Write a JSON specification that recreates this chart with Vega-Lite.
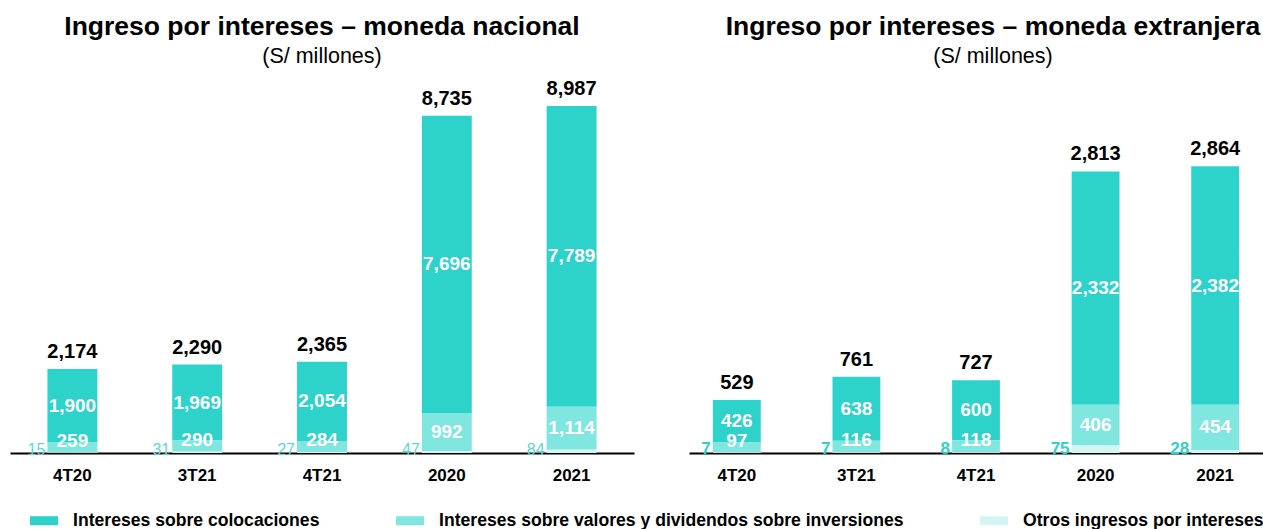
{
  "$schema": "https://vega.github.io/schema/vega-lite/v6.json",
  "padding": {"left": 10, "right": 0, "top": 14, "bottom": 0},
  "background": "white",
  "config": {
    "view": {"stroke": null},
    "font": "Liberation Sans",
    "title": {"fontSize": 26.5, "fontWeight": "bold", "color": "black", "subtitleFontSize": 21.5, "subtitleColor": "black", "subtitlePadding": 5, "offset": 12, "anchor": "middle"},
    "axisX": {"title": null, "labelAngle": 0, "labelFontSize": 17, "labelFontWeight": "bold", "labelColor": "black", "ticks": false, "labelPadding": 14, "domainColor": "black", "domainWidth": 2, "grid": false}
  },
  "datasets": {
    "nac": [
      {"periodo": "4T20", "serie": "Intereses sobre colocaciones", "valor": 1900},
      {"periodo": "4T20", "serie": "Intereses sobre valores y dividendos sobre inversiones", "valor": 259},
      {"periodo": "4T20", "serie": "Otros ingresos por intereses", "valor": 15},
      {"periodo": "3T21", "serie": "Intereses sobre colocaciones", "valor": 1969},
      {"periodo": "3T21", "serie": "Intereses sobre valores y dividendos sobre inversiones", "valor": 290},
      {"periodo": "3T21", "serie": "Otros ingresos por intereses", "valor": 31},
      {"periodo": "4T21", "serie": "Intereses sobre colocaciones", "valor": 2054},
      {"periodo": "4T21", "serie": "Intereses sobre valores y dividendos sobre inversiones", "valor": 284},
      {"periodo": "4T21", "serie": "Otros ingresos por intereses", "valor": 27},
      {"periodo": "2020", "serie": "Intereses sobre colocaciones", "valor": 7696},
      {"periodo": "2020", "serie": "Intereses sobre valores y dividendos sobre inversiones", "valor": 992},
      {"periodo": "2020", "serie": "Otros ingresos por intereses", "valor": 47},
      {"periodo": "2021", "serie": "Intereses sobre colocaciones", "valor": 7789},
      {"periodo": "2021", "serie": "Intereses sobre valores y dividendos sobre inversiones", "valor": 1114},
      {"periodo": "2021", "serie": "Otros ingresos por intereses", "valor": 84}
    ],
    "ext": [
      {"periodo": "4T20", "serie": "Intereses sobre colocaciones", "valor": 426},
      {"periodo": "4T20", "serie": "Intereses sobre valores y dividendos sobre inversiones", "valor": 97},
      {"periodo": "4T20", "serie": "Otros ingresos por intereses", "valor": 7},
      {"periodo": "3T21", "serie": "Intereses sobre colocaciones", "valor": 638},
      {"periodo": "3T21", "serie": "Intereses sobre valores y dividendos sobre inversiones", "valor": 116},
      {"periodo": "3T21", "serie": "Otros ingresos por intereses", "valor": 7},
      {"periodo": "4T21", "serie": "Intereses sobre colocaciones", "valor": 600},
      {"periodo": "4T21", "serie": "Intereses sobre valores y dividendos sobre inversiones", "valor": 118},
      {"periodo": "4T21", "serie": "Otros ingresos por intereses", "valor": 8},
      {"periodo": "2020", "serie": "Intereses sobre colocaciones", "valor": 2332},
      {"periodo": "2020", "serie": "Intereses sobre valores y dividendos sobre inversiones", "valor": 406},
      {"periodo": "2020", "serie": "Otros ingresos por intereses", "valor": 75},
      {"periodo": "2021", "serie": "Intereses sobre colocaciones", "valor": 2382},
      {"periodo": "2021", "serie": "Intereses sobre valores y dividendos sobre inversiones", "valor": 454},
      {"periodo": "2021", "serie": "Otros ingresos por intereses", "valor": 28}
    ],
    "tot_nac": [
      {"periodo": "4T20", "total": 2174},
      {"periodo": "3T21", "total": 2290},
      {"periodo": "4T21", "total": 2365},
      {"periodo": "2020", "total": 8735},
      {"periodo": "2021", "total": 8987}
    ],
    "tot_ext": [
      {"periodo": "4T20", "total": 529},
      {"periodo": "3T21", "total": 761},
      {"periodo": "4T21", "total": 727},
      {"periodo": "2020", "total": 2813},
      {"periodo": "2021", "total": 2864}
    ]
  },
  "hconcat": [
    {
      "title": {"text": "Ingreso por intereses – moneda nacional", "subtitle": "(S/ millones)"},
      "width": 624,
      "height": 374,
      "data": {"name": "nac"},
      "layer": [
        {
          "mark": {"type": "bar"},
          "encoding": {
            "x": {"field": "periodo", "type": "nominal", "sort": ["4T20", "3T21", "4T21", "2020", "2021"], "scale": {"paddingInner": 0.6, "paddingOuter": 0.3}},
            "y": {"field": "valor", "type": "quantitative", "stack": "zero", "scale": {"domain": [0, 9687], "nice": false}, "axis": null},
            "color": {
              "field": "serie", "type": "nominal",
              "scale": {"domain": ["Intereses sobre colocaciones", "Intereses sobre valores y dividendos sobre inversiones", "Otros ingresos por intereses"], "range": ["#2DD3CB", "#80E6E0", "#D5F5F3"]},
              "legend": {
                "title": null, "orient": "none", "legendX": 25, "legendY": 432.5, "direction": "horizontal",
                "symbolType": "M-1.556,-0.5H1.556V0.5H-1.556Z", "symbolSize": 324, "symbolStrokeWidth": 0, "symbolOpacity": 1,
                "labelFontSize": 17.6, "labelFontWeight": "bold", "labelColor": "black", "labelLimit": 700, "labelOffset": 20,
                "columnPadding": 75, "padding": 0
              }
            },
            "order": {"field": "serie", "sort": "descending"}
          }
        },
        {
          "mark": {"type": "text", "fontWeight": "bold", "fontSize": 19, "color": "white", "baseline": "middle"},
          "encoding": {
            "x": {"field": "periodo", "type": "nominal", "sort": ["4T20", "3T21", "4T21", "2020", "2021"]},
            "y": {"field": "valor", "type": "quantitative", "stack": "zero", "bandPosition": 0.5},
            "detail": {"field": "serie"},
            "order": {"field": "serie", "sort": "descending"},
            "text": {"field": "valor", "type": "quantitative", "format": ",", "condition": {"test": "!(datum.serie === 'Intereses sobre colocaciones' || (datum.serie === 'Intereses sobre valores y dividendos sobre inversiones' && (datum.periodo === '2020' || datum.periodo === '2021')))", "value": ""}}
          }
        },
        {
          "mark": {"type": "text", "fontWeight": "bold", "fontSize": 19, "color": "white", "baseline": "middle", "dy": -6},
          "encoding": {
            "x": {"field": "periodo", "type": "nominal", "sort": ["4T20", "3T21", "4T21", "2020", "2021"]},
            "y": {"field": "valor", "type": "quantitative", "stack": "zero", "bandPosition": 0.5},
            "detail": {"field": "serie"},
            "order": {"field": "serie", "sort": "descending"},
            "text": {"field": "valor", "type": "quantitative", "format": ",", "condition": {"test": "!(datum.serie === 'Intereses sobre valores y dividendos sobre inversiones' && datum.periodo !== '2020' && datum.periodo !== '2021')", "value": ""}}
          }
        },
        {
          "transform": [{"filter": "datum.serie === 'Otros ingresos por intereses'"}],
          "mark": {"type": "text", "fontSize": 16, "color": "#5ED9D2", "align": "right", "baseline": "alphabetic", "dx": -27, "dy": 2},
          "encoding": {
            "x": {"field": "periodo", "type": "nominal", "sort": ["4T20", "3T21", "4T21", "2020", "2021"]},
            "y": {"datum": 0, "type": "quantitative"},
            "text": {"field": "valor", "type": "quantitative", "format": ","}
          }
        },
        {
          "data": {"name": "tot_nac"},
          "mark": {"type": "text", "fontWeight": "bold", "fontSize": 20, "color": "black", "baseline": "alphabetic", "dy": -11},
          "encoding": {
            "x": {"field": "periodo", "type": "nominal", "sort": ["4T20", "3T21", "4T21", "2020", "2021"]},
            "y": {"field": "total", "type": "quantitative"},
            "text": {"field": "total", "type": "quantitative", "format": ","}
          }
        }
      ]
    },
    {
      "title": {"text": "Ingreso por intereses – moneda extranjera", "subtitle": "(S/ millones)", "dx": 17},
      "width": 574,
      "height": 374,
      "data": {"name": "ext"},
      "layer": [
        {
          "mark": {"type": "bar"},
          "encoding": {
            "x": {"field": "periodo", "type": "nominal", "sort": ["4T20", "3T21", "4T21", "2020", "2021"], "scale": {"paddingInner": 0.6, "paddingOuter": 0.2}},
            "y": {"field": "valor", "type": "quantitative", "stack": "zero", "scale": {"domain": [0, 3736], "nice": false}, "axis": null},
            "color": {
              "field": "serie", "type": "nominal",
              "scale": {"domain": ["Intereses sobre colocaciones", "Intereses sobre valores y dividendos sobre inversiones", "Otros ingresos por intereses"], "range": ["#2DD3CB", "#80E6E0", "#D5F5F3"]}
            },
            "order": {"field": "serie", "sort": "descending"}
          }
        },
        {
          "mark": {"type": "text", "fontWeight": "bold", "fontSize": 19, "color": "white", "baseline": "middle"},
          "encoding": {
            "x": {"field": "periodo", "type": "nominal", "sort": ["4T20", "3T21", "4T21", "2020", "2021"]},
            "y": {"field": "valor", "type": "quantitative", "stack": "zero", "bandPosition": 0.5},
            "detail": {"field": "serie"},
            "order": {"field": "serie", "sort": "descending"},
            "text": {"field": "valor", "type": "quantitative", "format": ",", "condition": {"test": "!(datum.serie === 'Intereses sobre colocaciones' || (datum.serie === 'Intereses sobre valores y dividendos sobre inversiones' && (datum.periodo === '2020' || datum.periodo === '2021')))", "value": ""}}
          }
        },
        {
          "mark": {"type": "text", "fontWeight": "bold", "fontSize": 19, "color": "white", "baseline": "middle", "dy": -6},
          "encoding": {
            "x": {"field": "periodo", "type": "nominal", "sort": ["4T20", "3T21", "4T21", "2020", "2021"]},
            "y": {"field": "valor", "type": "quantitative", "stack": "zero", "bandPosition": 0.5},
            "detail": {"field": "serie"},
            "order": {"field": "serie", "sort": "descending"},
            "text": {"field": "valor", "type": "quantitative", "format": ",", "condition": {"test": "!(datum.serie === 'Intereses sobre valores y dividendos sobre inversiones' && datum.periodo !== '2020' && datum.periodo !== '2021')", "value": ""}}
          }
        },
        {
          "transform": [{"filter": "datum.serie === 'Otros ingresos por intereses'"}],
          "mark": {"type": "text", "fontSize": 17, "fontWeight": "bold", "color": "#2DD3CB", "align": "right", "baseline": "alphabetic", "dx": -26, "dy": 1},
          "encoding": {
            "x": {"field": "periodo", "type": "nominal", "sort": ["4T20", "3T21", "4T21", "2020", "2021"]},
            "y": {"datum": 0, "type": "quantitative"},
            "text": {"field": "valor", "type": "quantitative", "format": ","}
          }
        },
        {
          "data": {"name": "tot_ext"},
          "mark": {"type": "text", "fontWeight": "bold", "fontSize": 20, "color": "black", "baseline": "alphabetic", "dy": -11},
          "encoding": {
            "x": {"field": "periodo", "type": "nominal", "sort": ["4T20", "3T21", "4T21", "2020", "2021"]},
            "y": {"field": "total", "type": "quantitative"},
            "text": {"field": "total", "type": "quantitative", "format": ","}
          }
        }
      ]
    }
  ],
  "spacing": 55,
  "resolve": {"scale": {"color": "shared", "y": "independent", "x": "independent"}}
}
